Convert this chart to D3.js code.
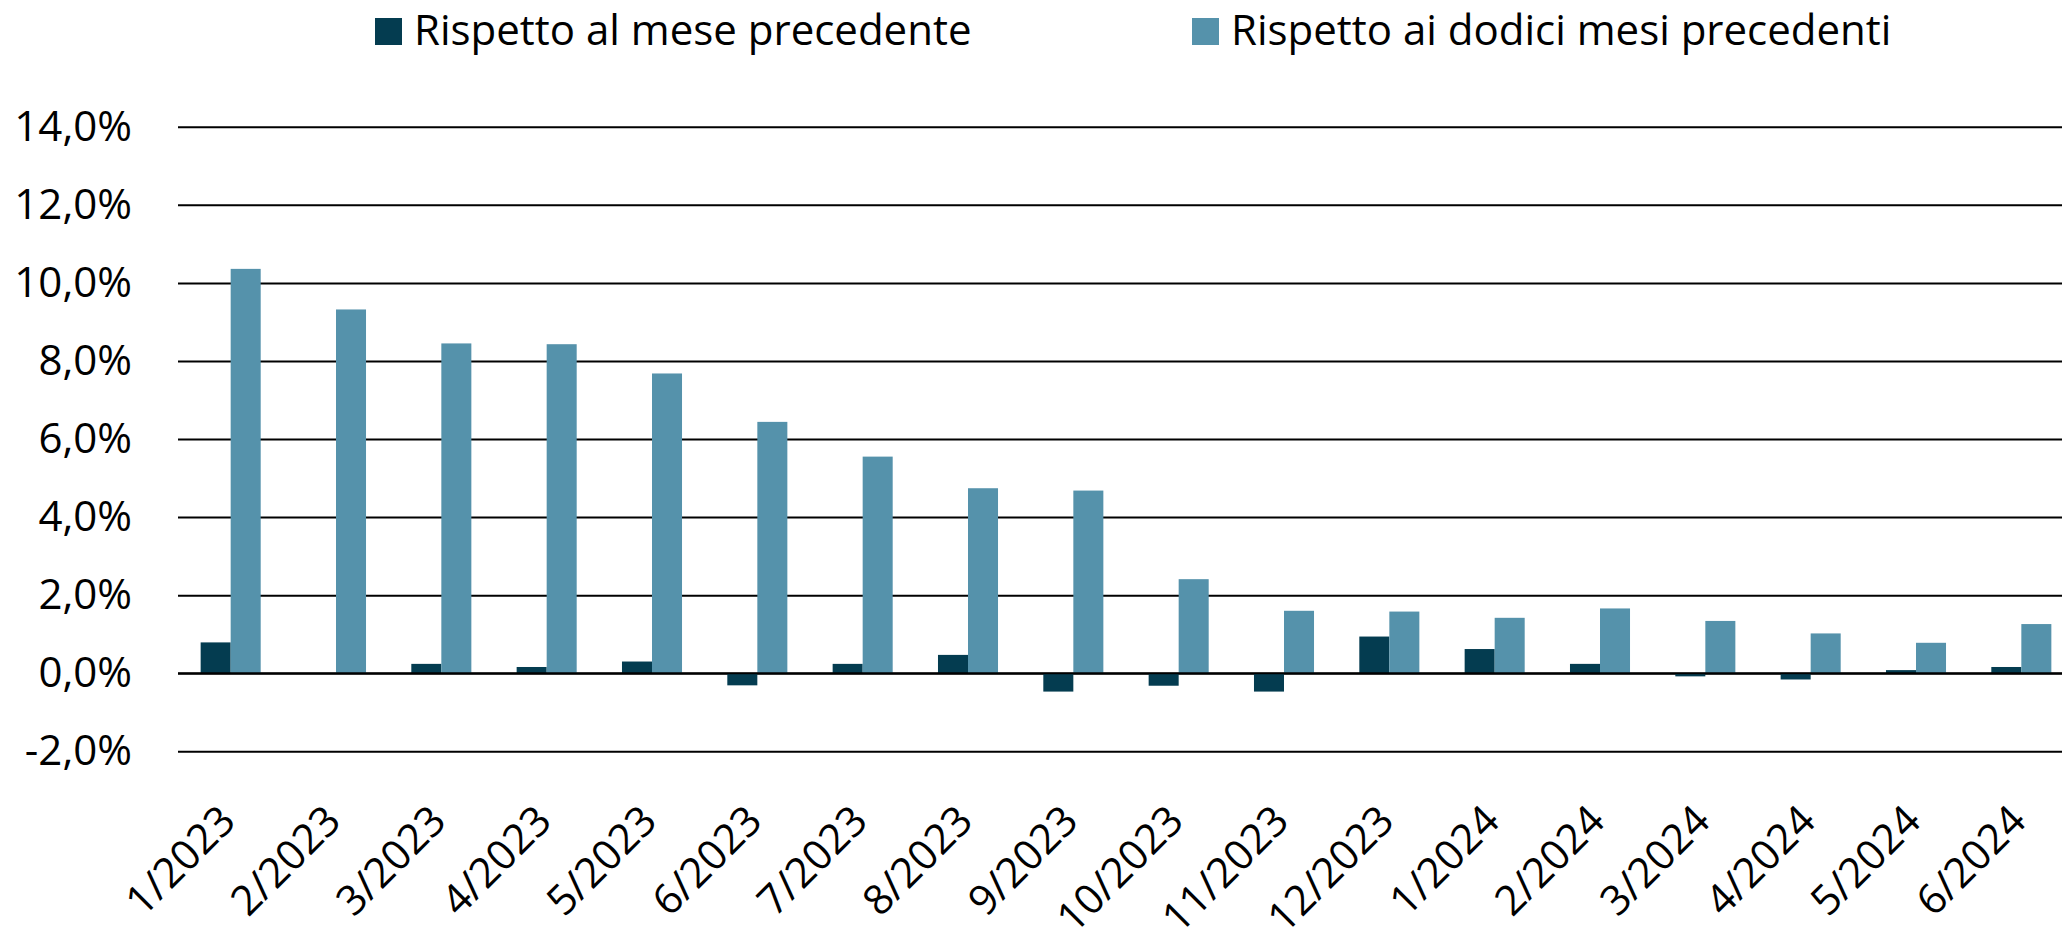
<!DOCTYPE html>
<html>
<head>
<meta charset="utf-8">
<script src="https://cdn.jsdelivr.net/npm/d3@7"></script>
<style>
  html, body { margin: 0; padding: 0; background: #fff; }
  svg { display: block; }
  text { font-family: "Open Sans", "Noto Sans", sans-serif; fill: #000; }
</style>
</head>
<body>
<svg id="chart" width="2062" height="928"></svg>
<script>
// ---- Data ----
const categories = ["1/2023","2/2023","3/2023","4/2023","5/2023","6/2023","7/2023","8/2023","9/2023",
  "10/2023","11/2023","12/2023","1/2024","2/2024","3/2024","4/2024","5/2024","6/2024"];
const seriesNames = ["Rispetto al mese precedente", "Rispetto ai dodici mesi precedenti"];
const monthly = [0.79, 0.0, 0.24, 0.16, 0.30, -0.31, 0.24, 0.47, -0.47, -0.32, -0.47, 0.94, 0.62, 0.24, -0.08, -0.16, 0.08, 0.16];
const yearly  = [10.36, 9.32, 8.45, 8.43, 7.68, 6.44, 5.55, 4.74, 4.68, 2.41, 1.60, 1.58, 1.42, 1.66, 1.34, 1.02, 0.78, 1.26];
const yTicks = [-2, 0, 2, 4, 6, 8, 10, 12, 14];
const colors = ["#043c50", "#5592ab"];

// ---- Layout ----
const W = 2062, H = 928;
const plotLeft = 178, plotRight = 2074;
const svg = d3.select("#chart");

const y = d3.scaleLinear().domain([-2, 14]).range([751.3, 126.8]);
const x0 = d3.scaleBand().domain(categories).range([plotLeft, plotRight]).paddingInner(0.43).paddingOuter(0.215);
const x1 = d3.scaleBand().domain(seriesNames).range([0, x0.bandwidth()]);

const locale = d3.formatLocale({decimal: ",", thousands: ".", grouping: [3], currency: ["", "€"], minus: "-"});
const fmt = locale.format(".1f");

// Y axis with gridlines
const yAxis = svg.append("g")
  .attr("transform", `translate(${plotLeft},0)`)
  .call(d3.axisLeft(y).tickValues(yTicks).tickSize(-(W - plotLeft)).tickPadding(46).tickFormat(d => fmt(d) + "%"));
yAxis.select(".domain").remove();
yAxis.selectAll(".tick line").attr("stroke", "#000").attr("stroke-width", 2);
yAxis.selectAll(".tick text")
  .style("font-family", '"Open Sans", sans-serif')
  .style("font-size", "42px")
  .attr("fill", "#000");

// Bars
const data = categories.map((c, i) => ({cat: c, values: [monthly[i], yearly[i]]}));
const groups = svg.append("g").selectAll("g").data(data).join("g")
  .attr("transform", d => `translate(${x0(d.cat)},0)`);
groups.selectAll("rect")
  .data(d => d.values.map((v, k) => ({key: seriesNames[k], v, k})))
  .join("rect")
  .attr("x", d => x1(d.key))
  .attr("width", x1.bandwidth())
  .attr("y", d => y(Math.max(0, d.v)))
  .attr("height", d => Math.abs(y(d.v) - y(0)))
  .attr("fill", d => colors[d.k]);

// zero line on top
svg.append("line")
  .attr("x1", plotLeft).attr("x2", W)
  .attr("y1", y(0)).attr("y2", y(0))
  .attr("stroke", "#000").attr("stroke-width", 2);

// X axis labels
const xAxis = svg.append("g")
  .attr("transform", `translate(0,${y(-2)})`)
  .call(d3.axisBottom(x0).tickSize(0).tickPadding(0));
xAxis.select(".domain").remove();
xAxis.selectAll(".tick text")
  .attr("y", 0).attr("dy", 0)
  .attr("text-anchor", "end")
  .attr("transform", "translate(7,72) rotate(-45)")
  .style("font-family", '"Open Sans", sans-serif')
  .style("font-size", "41.5px")
  .attr("fill", "#000");

// Legend
const legendX = [375, 1192];
const legend = svg.append("g").selectAll("g").data(seriesNames).join("g")
  .attr("transform", (d, i) => `translate(${legendX[i]},18)`);
legend.append("rect").attr("width", 27).attr("height", 27).attr("fill", (d, i) => colors[i]);
legend.append("text").attr("x", 39).attr("y", 27)
  .style("font-size", "42px")
  .text(d => d);
</script>
</body>
</html>
